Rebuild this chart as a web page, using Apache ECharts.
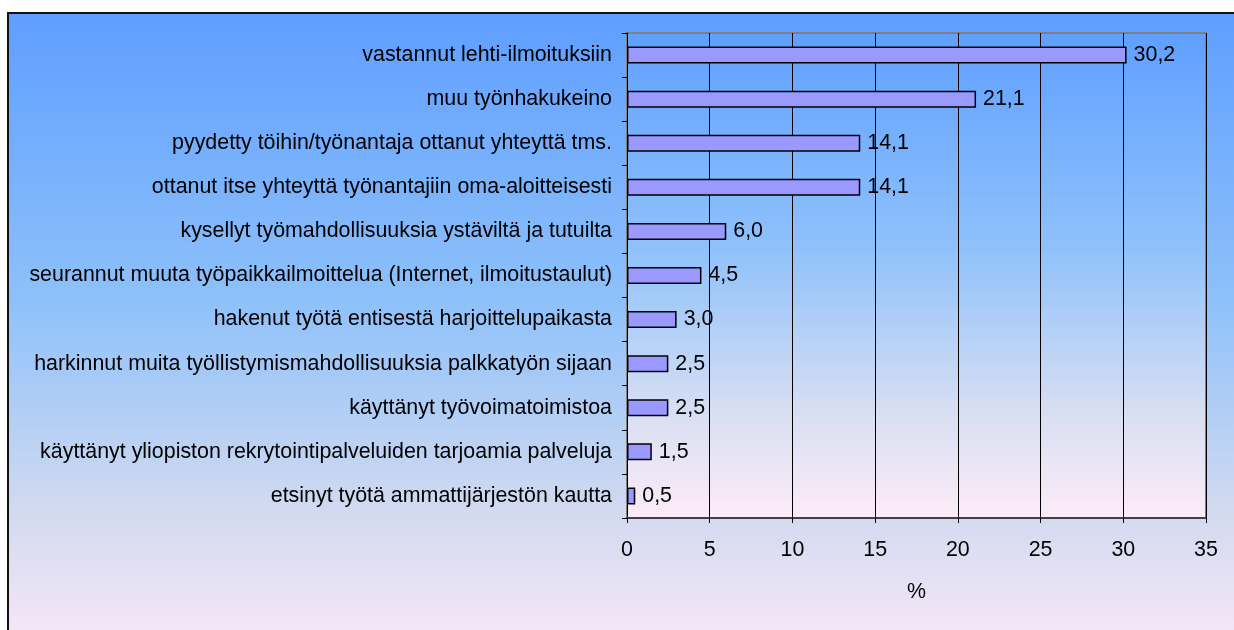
<!DOCTYPE html>
<html>
<head>
<meta charset="utf-8">
<script src="https://cdn.jsdelivr.net/npm/echarts@6/dist/echarts.min.js"></script>
<style>
html,body{margin:0;padding:0;background:#fff;}
#main{width:1234px;height:630px;}
</style>
</head>
<body>
<div id="main"></div>
<script>
const categories = [
  "vastannut lehti-ilmoituksiin",
  "muu työnhakukeino",
  "pyydetty töihin/työnantaja ottanut yhteyttä tms.",
  "ottanut itse yhteyttä työnantajiin oma-aloitteisesti",
  "kysellyt työmahdollisuuksia ystäviltä ja tutuilta",
  "seurannut muuta työpaikkailmoittelua (Internet, ilmoitustaulut)",
  "hakenut työtä entisestä harjoittelupaikasta",
  "harkinnut muita työllistymismahdollisuuksia palkkatyön sijaan",
  "käyttänyt työvoimatoimistoa",
  "käyttänyt yliopiston rekrytointipalveluiden tarjoamia palveluja",
  "etsinyt työtä ammattijärjestön kautta"
];
const values = [30.2, 21.1, 14.1, 14.1, 6.0, 4.5, 3.0, 2.5, 2.5, 1.5, 0.5];
const xTicks = { min: 0, max: 35, interval: 5 };
const axisName = "%";

const font = "'Liberation Sans', Arial, sans-serif";
const fs = 21.4;
const chart = echarts.init(document.getElementById('main'), null, {renderer: 'canvas'});

const grad = (stops) => new echarts.graphic.LinearGradient(0, 0, 0, 1, stops);

chart.setOption({
  animation: false,
  graphic: [{
    type: 'rect',
    z: -100,
    silent: true,
    shape: { x: 8, y: 13, width: 1240, height: 640 },
    style: {
      fill: grad([
        {offset: 0, color: '#5E9EFF'},
        {offset: 0.45, color: '#8EC1FA'},
        {offset: 0.78, color: '#D2DAF0'},
        {offset: 1, color: '#FAE8F8'}
      ]),
      stroke: '#111',
      lineWidth: 2
    }
  }],
  grid: {
    left: 627, right: 28, top: 33, bottom: 112,
    show: true,
    backgroundColor: grad([
      {offset: 0, color: '#5F9FFF'},
      {offset: 0.45, color: '#90C2FA'},
      {offset: 0.8, color: '#DCE0F2'},
      {offset: 1, color: '#FDEBF8'}
    ]),
    borderColor: '#808080',
    borderWidth: 2
  },
  xAxis: {
    type: 'value',
    min: xTicks.min, max: xTicks.max, interval: xTicks.interval,
    name: axisName,
    nameLocation: 'middle',
    nameGap: 64,
    nameTextStyle: { color: '#000', fontSize: fs, fontFamily: font },
    axisLine: { show: true, lineStyle: { color: '#404040', width: 2 } },
    axisTick: { show: true, length: 5, lineStyle: { color: '#000' } },
    axisLabel: { color: '#000', fontSize: fs, fontFamily: font, margin: 22 },
    splitLine: { show: true, lineStyle: { color: '#000', width: 1 } }
  },
  yAxis: {
    type: 'category',
    inverse: true,
    data: categories,
    axisLine: { show: true, lineStyle: { color: '#000', width: 1 } },
    axisTick: { show: true, length: 5, lineStyle: { color: '#000' } },
    axisLabel: { color: '#000', fontSize: fs, fontFamily: font, margin: 15 },
    splitLine: { show: false }
  },
  series: [{
    type: 'bar',
    data: values,
    barWidth: 17,
    itemStyle: { color: '#9999FF', borderColor: '#000', borderWidth: 1.5 },
    label: {
      show: true,
      position: 'right',
      distance: 7,
      color: '#000',
      fontSize: fs,
      fontFamily: font,
      formatter: p => p.value.toFixed(1).replace('.', ',')
    }
  }]
});
</script>
</body>
</html>
